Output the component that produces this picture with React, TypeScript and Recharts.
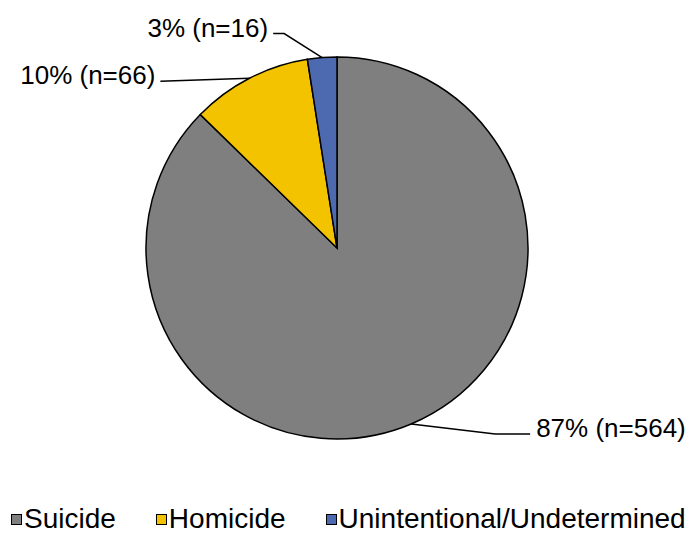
import React from "react";
import { PieChart, Pie, Cell, Legend } from "recharts";

const categories = ["Suicide", "Homicide", "Unintentional/Undetermined"];
const counts = [564, 66, 16];
const percentLabels = ["87%", "10%", "3%"];

const colors = ["#7F7F7F", "#F4C300", "#4D6AB0"];
const FONT = "'Liberation Sans', Arial, sans-serif";
const RAD = Math.PI / 180;

// leader line layout per slice: elbow offset from the edge point, then horizontal tail
const labelLayout = [
  { dx: 84, dy: 10, tail: 35 },
  { dx: -89, dy: 3, tail: 0 },
  { dx: -38, dy: -24, tail: -11 },
];

const data = categories.map((name, i) => ({ name, value: counts[i], pct: percentLabels[i] }));

const renderLabel = (props: any) => {
  const { cx, cy, midAngle, outerRadius, index } = props;
  const a = -midAngle * RAD;
  const sx = cx + outerRadius * Math.cos(a);
  const sy = cy + outerRadius * Math.sin(a);
  const L = labelLayout[index];
  const ex = sx + L.dx;
  const ey = sy + L.dy;
  const tx = ex + L.tail;
  const right = tx > cx;
  return (
    <g>
      <polyline
        points={`${sx},${sy} ${ex},${ey} ${tx},${ey}`}
        fill="none"
        stroke="#000"
        strokeWidth={1.5}
      />
      <text
        x={tx + (right ? 6 : -5)}
        y={ey - 6}
        textAnchor={right ? "start" : "end"}
        dominantBaseline="central"
        fontSize={26}
        fontFamily={FONT}
        fill="#000"
      >
        {`${data[index].pct} (n=${data[index].value})`}
      </text>
    </g>
  );
};

const renderLegend = () => (
  <div style={{ display: "flex", alignItems: "center", fontFamily: FONT, fontSize: 28, color: "#000", height: 24 }}>
    {categories.map((c, i) => (
      <div key={c} style={{ display: "flex", alignItems: "center", marginRight: i < categories.length - 1 ? 40 : 0 }}>
        <span
          style={{
            display: "inline-block",
            boxSizing: "border-box",
            width: 11,
            height: 11,
            background: colors[i],
            border: "1px solid #000",
            marginRight: 2,
          }}
        />
        <span style={{ lineHeight: "24px", whiteSpace: "nowrap" }}>{c}</span>
      </div>
    ))}
  </div>
);

export default function App() {
  return (
    <div style={{ position: "absolute", left: 0, top: 0, background: "#fff" }}>
      <PieChart width={689} height={533} margin={{ top: 0, right: 0, bottom: 0, left: 0 }}>
        <Pie
          data={data}
          dataKey="value"
          nameKey="name"
          cx={337}
          cy={248}
          outerRadius={191}
          startAngle={90}
          endAngle={-270}
          stroke="#000"
          strokeWidth={1.5}
          label={renderLabel}
          labelLine={false}
          isAnimationActive={false}
        >
          {data.map((d, i) => (
            <Cell key={d.name} fill={colors[i]} />
          ))}
        </Pie>
        <Legend
          content={renderLegend}
          wrapperStyle={{ position: "absolute", left: 11, top: 507, width: "auto" }}
        />
      </PieChart>
    </div>
  );
}
